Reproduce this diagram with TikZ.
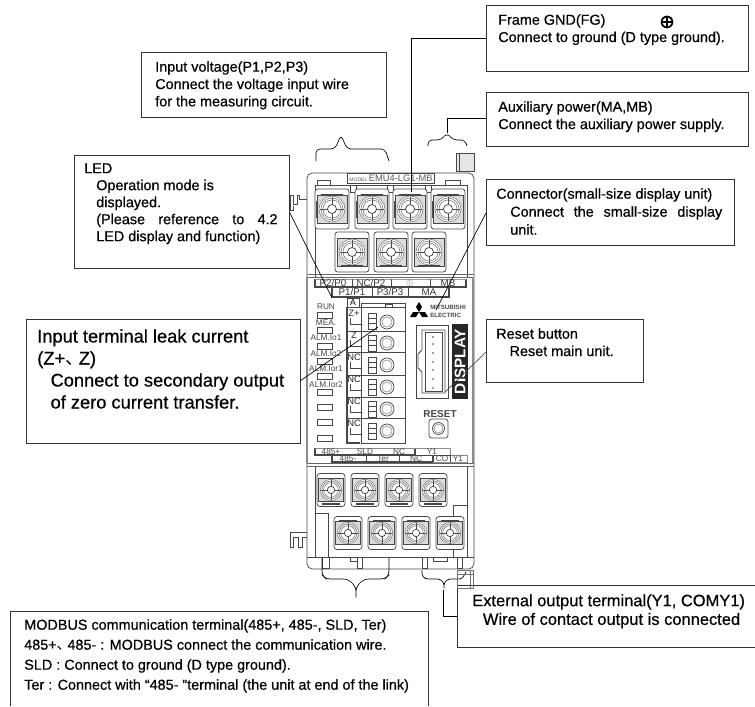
\documentclass[tikz,border=0pt]{standalone}
\usepackage{fontspec}
\setmainfont{Liberation Sans}
\newfontfamily\calf{Liberation Sans}[FakeBold=0.5]
\newfontfamily\cjk{Noto Sans CJK SC}
\newfontfamily\symf{DejaVu Sans}[FakeBold=2]
\newcommand{\tick}{\makebox[0.75em][l]{\cjk 、}}
\definecolor{dev}{gray}{0.28}
\tikzset{
 callout/.style={draw=black!80,line width=0.6pt,fill=white},
 wire/.style={draw=black,line width=0.5pt},
 lbl/.style={anchor=north west,inner sep=0pt,font=\calf\fontsize{10.8pt}{13pt}\selectfont,align=left},
 dev/.style={draw=dev,line width=0.55pt},
 tinyt/.style={inner sep=0pt,font=\fontsize{6.2pt}{6.2pt}\selectfont,text=dev},
 smallt/.style={inner sep=0pt,font=\fontsize{7.3pt}{7.3pt}\selectfont,text=black!80},
 scr/.pic={
  \draw[dev,fill=white,rounded corners=2pt] (-17,-20) rectangle (17,20);
  \draw[dev,fill=black!14] (-15,-14) rectangle (15,14);
  \foreach \r in {13,11,9}{\draw[black!55,line width=0.4pt,fill=white] (0,0) circle (\r);}
  \draw[black!70,line width=0.7pt] (-12,0) -- (12,0) (0,-12) -- (0,12);
  \draw[dev,fill=white] (0,0) circle (4.5);
 }
}
\begin{document}
\begin{tikzpicture}[x=0.75pt,y=-0.75pt]
\useasboundingbox (0,0) rectangle (755,706);
% device body
\draw[dev,rounded corners=4pt] (307,173) rectangle (474,569);
\draw[dev] (315,185) -- (467,185);
\draw[dev] (315,185) -- (315,277) (467,185) -- (467,277);
\draw[dev] (315,466) -- (315,557) (467,466) -- (467,557) (307,557) -- (474,557);
\draw[black!60,line width=0.7pt] (307,274) -- (474,274) (307,277) -- (474,277);
\draw[black!60,line width=0.7pt] (307,463) -- (474,463) (307,466) -- (474,466);
\draw[black!45,line width=1.6pt] (307,277) -- (307,463) (473,277) -- (473,463);
% clips and tabs
\draw[dev,fill=black!10] (456,153) rectangle (474,171);
\draw[dev] (459,153) -- (459,171);
\draw[dev] (290,210) -- (290,195) -- (293,195) -- (293,204) -- (297,204) -- (297,195) -- (299,195) -- (299,199) -- (307,199);
\draw[dev] (290,210) -- (293,210) -- (293,206);
\draw[dev] (307,532) -- (290,532) -- (290,547) -- (293,547) -- (293,537) -- (298,537) -- (298,547) -- (302,547) -- (302,537) -- (307,537);
% small tabs, top
\draw[dev] (317,180) rectangle (330,185) (445,180) -- (445,185) -- (460,185) -- (460,180) -- cycle;
\foreach \x in {350,387,425}{\draw[dev] (\x,185) rectangle (\x+6,192);}
% model label
\draw[dev,fill=white] (347,173) rectangle (434,183);
\node[inner sep=0pt,text=black!65] (model) at (391,178) {\fontsize{3.8pt}{4pt}\selectfont MODEL\ \fontsize{7pt}{7pt}\selectfont EMU4-LG1-MB};
% top terminals
\foreach \x in {332,372,410,448}{
 \pic at (\x,209) {scr};
 \draw[dev,line width=1pt] (\x-11,195) -- (\x+11,195);
 \draw[dev,line width=0.8pt] (\x-15,201) -- (\x-15,218);
}
\foreach \x in {352,391,429}{
 \pic at (\x,252) {scr};
 \draw[dev,line width=1pt] (\x-11,266) -- (\x+11,266);
}
% terminal label strips
\draw[dev,line width=0.9pt] (315,279) -- (315,287) -- (466,287) -- (466,279);
\draw[dev,line width=0.9pt] (332,287) -- (332,297) -- (449,297) -- (449,287);
\draw[black!40] (315,279) -- (466,279);
\foreach \x in {352,391,430}{\draw[dev] (\x,279) -- (\x,287);}
\foreach \x in {372,408}{\draw[dev] (\x,287) -- (\x,297);}
\node[smallt] (tp2) at (333,283) {P2/P0};
\node[smallt] (tnc) at (371,283) {NC/P2};
\node[tinyt,text=black!50] (tfg) at (410,283) {$\oplus$};
\node[smallt] (tmb) at (448,283) {MB};
\node[smallt] (tp1) at (352,292.5) {P1/P1};
\node[smallt] (tp3) at (390,292.5) {P3/P3};
\node[smallt] (tma) at (429,292.5) {MA};
% A Z+ column
\node[draw=dev,fill=white,minimum width=9pt,minimum height=7pt,inner sep=0pt,font=\fontsize{6.5pt}{6.5pt}\selectfont] (tA) at (353,302.5) {A};
\draw[dev,line width=1.1pt] (347,307) -- (347,443) -- (360,443);
\draw[dev] (361,303) rectangle (405,443);
\draw[dev] (385,304) -- (392,304) -- (392,307) -- (385,307) -- cycle;
\foreach \y in {307,331,352,375,397,418}{\draw[dev] (347,\y) -- (405,\y);}
\foreach \y/\t in {313/Z+,335/Z,357/NC,379/NC,401/NC,423/NC}{
 \node[tinyt,font=\fontsize{7pt}{7pt}\selectfont,text=black!85,anchor=center] at (354,\y) {\t};
 \draw[dev] (350,\y+5) -- (350,\y+11) -- (361,\y+11);
 \draw[dev] (368,\y) rectangle (376,\y+16);
 \draw[dev] (368,\y+5) -- (376,\y+5) (368,\y+10) -- (376,\y+10);
}
\foreach \y in {322,343,365,387,409,431}{
 \draw[dev] (387,\y) circle (7);
 \draw[black!50] (387,\y) circle (5);
}
% LEDs
\foreach \y in {312,327.5,343,358,373.5,389,404,419,435}{\draw[dev] (317,\y) rectangle (332,\y+6);}
\node[tinyt] (lrun) at (326,307) {RUN};
\node[tinyt] (lmea) at (326,323) {MEA.};
\node[tinyt] (lio1) at (326,338) {ALM.Io1};
\node[tinyt] (lio2) at (326,354) {ALM.Io2};
\node[tinyt] (lor1) at (326,369) {ALM.Ior1};
\node[tinyt] (lor2) at (326,385) {ALM.Ior2};
% logo
\fill[black] (419,302) -- (422,307) -- (419,312) -- (416,307) -- cycle;
\fill[black] (419,312) -- (413,312) -- (410,317) -- (416,317) -- cycle;
\fill[black] (419,312) -- (425,312) -- (428,317) -- (422,317) -- cycle;
\node[inner sep=0pt,anchor=west,font=\fontsize{4.6pt}{6.2pt}\selectfont\bfseries,align=left,text=dev] (logo) at (430,311.5) {MITSUBISHI\\ELECTRIC};
% connector
\draw[dev] (416,325) rectangle (448,398);
\draw[dev] (422,330) -- (445,330) -- (445,393) -- (422,393) -- (422,372) -- (418,368) -- (418,354) -- (422,350) -- cycle;
\draw[dev] (425,332) -- (442,332) -- (442,391) -- (425,391) -- cycle;
\foreach \y in {337,344,353,362,370,379,388}{\fill[black!50] (433,\y) circle (1.2);}
\fill[black!85] (452,324) rectangle (468,399);
\node[rotate=90,text=white,font=\fontsize{11.5pt}{11.5pt}\selectfont\bfseries,inner sep=0pt] (disp) at (460,361.5) {DISPLAY};
\node[inner sep=0pt,font=\fontsize{7.5pt}{7.5pt}\selectfont\bfseries,text=dev] (reset) at (440,414) {RESET};
\draw[dev,rounded corners=2pt] (429,419) rectangle (448,438);
\draw[dev] (438.5,428.5) circle (6);
\draw[black!50] (438.5,428.5) circle (4.5);
% bottom strip
\draw[dev,line width=0.9pt] (315,448) -- (315,455) -- (415,455) -- (415,448);
\draw[dev,line width=0.9pt] (332,455) -- (332,462) -- (433,462) -- (433,455);
\draw[black!45] (315,448) -- (450,448) -- (450,455) -- (467,455) -- (467,462) -- (433,462);
\foreach \x in {366,399}{\draw[dev] (\x,455) -- (\x,462);}
\draw[dev] (415,455) -- (450,455) (450,455) -- (450,462);
\node[tinyt] at (331,451.5) {485+};
\node[tinyt] at (365,451.5) {SLD};
\node[tinyt] at (399,451.5) {NC};
\node[tinyt] at (432,451.5) {Y1};
\node[tinyt] at (348,458.5) {485-};
\node[tinyt] at (383,458.5) {Ter};
\node[tinyt] at (416,458.5) {NC};
\node[tinyt] at (442,458.5) {CO};
\node[tinyt] at (458,458.5) {Y1};
% bottom terminals
\draw[dev] (315,513) rectangle (328,557);
\draw[dev] (453,505) rectangle (467,557);
\foreach \x in {331,365,399,433}{
 \pic[scale=0.82] at (\x,490) {scr};
 \draw[dev,line width=1pt] (\x-9,504) -- (\x+9,504);
}
\foreach \x in {348,382,416,450}{
 \pic[scale=0.82] at (\x,533) {scr};
 \draw[dev,line width=1pt] (\x-9,521) -- (\x+9,521);
}
% feet
\draw[dev] (322,557) rectangle (329,568) (350,557) -- (350,561) -- (357,561) -- (357,557) (357,557) rectangle (362,568);
\draw[dev] (422,557) rectangle (427,568) (433,557) -- (433,561) -- (447,561) -- (447,557) (457,557) rectangle (462,568);
% brackets
\draw[wire,rounded corners=3pt] (316,161) -- (316,149) -- (335,149) -- (341,135) -- (347,149) -- (385,149) -- (389,161);
\draw[wire,rounded corners=3pt] (428,146) -- (428,140) -- (441,140) -- (447,133) -- (453,140) -- (465,140) -- (467,146);
\coordinate (abr) at (447,133);
\draw[wire,rounded corners=3pt] (322,558) -- (322,575) -- (326,579) -- (348,579) -- (356,587) -- (356,600) -- (356,587) -- (364,579) -- (385,579) -- (389,575) -- (389,558);
\draw[wire,rounded corners=2pt] (422,570) -- (422,576) -- (426,579) -- (440,579) -- (444,583) -- (444,586) -- (444,583) -- (448,579) -- (462,579) -- (466,572);
% callouts
\node[callout,anchor=north west,minimum width=183.75pt,minimum height=48.75pt] (vbox) at (141,52) {};
\node[lbl] (vtxt) at (155,61) {Input voltage(P1,P2,P3)\\Connect the voltage input wire\\for the measuring circuit.};
\node[callout,anchor=north west,minimum width=196.5pt,minimum height=49.5pt] (fbox) at (486,5) {};
\node[lbl] (ftxt) at (498,14) {Frame GND(FG)\\Connect to ground (D type ground).};
\node[font=\symf\fontsize{14pt}{14pt}\selectfont,inner sep=0pt] (fsym) at (667,22) {⊕};
\node[callout,anchor=north west,minimum width=196.5pt,minimum height=40.5pt] (abox) at (486,92) {};
\node[lbl] (atxt) at (498,101) {Auxiliary power(MA,MB)\\Connect the auxiliary power supply.};
\node[callout,anchor=north west,minimum width=186pt,minimum height=49.5pt] (cbox) at (486,179) {};
\node[lbl,font=\calf\fontsize{10.8pt}{13.5pt}\selectfont] (ctxt) at (496,188) {Connector(small-size display unit)\\\hspace{10.5pt}\makebox[159pt][s]{Connect the small-size display}\\\hspace{10.5pt}unit.};
\node[callout,anchor=north west,minimum width=161.25pt,minimum height=84.75pt] (lbox) at (74,155) {};
\node[lbl,font=\calf\fontsize{10.8pt}{12.75pt}\selectfont] (ltxt) at (84,163) {LED\\\hspace{9pt}Operation mode is\\\hspace{9pt}displayed.\\\hspace{9pt}\makebox[136pt][s]{(Please reference to 4.2}\\\hspace{9pt}LED display and function)};
\node[callout,anchor=north west,minimum width=205.5pt,minimum height=93pt] (ibox) at (26,319) {};
\node[lbl,font=\calf\fontsize{13.7pt}{16.5pt}\selectfont] (itxt) at (37,329) {Input terminal leak current\\(Z+\tick Z)\\\hspace{10pt}Connect to secondary output\\\hspace{10pt}of zero current transfer.};
\node[callout,anchor=north west,minimum width=117.75pt,minimum height=47.25pt] (rbox) at (486,319) {};
\node[lbl] (rtxt) at (496,328) {Reset button\\\hspace{10pt}Reset main unit.};
\draw[callout] (10,706) -- (10,611) -- (428,611) -- (428,706);
\node[lbl,font=\calf\fontsize{10.8pt}{15pt}\selectfont] (mtxt) at (24,619) {MODBUS communication terminal(485+, 485-, SLD, Ter)\\485+\tick 485- : MODBUS connect the communication wire.\\SLD : Connect to ground (D type ground).\\Ter : Connect with “485- ”terminal (the unit at end of the link)};
\draw[callout] (755,585) -- (457,585) -- (457,647) -- (755,647);
\node[lbl,font=\calf\fontsize{12.35pt}{14pt}\selectfont] (etxt) at (472,594) {External output terminal(Y1, COMY1)\\\hspace{8pt}Wire of contact output is connected};
% lower right clip, over the box corner
\draw[black!55,line width=0.7pt] (457,570) rectangle (473,588);
\draw[black!55] (457,574) -- (473,574) (470,570) -- (470,588);
% connectors
\coordinate (gdot) at (411,192);
\draw[wire] (gdot) -- (411,38) -- (fbox.west |- 0,38);
\draw[wire] (abr) -- (447,118) -- (abox.west |- 0,118);
\coordinate (ledp) at (290,213);
\coordinate (ledt) at (332,298);
\draw[wire] (ledp) -- (ledt);
\coordinate (cstart) at (486,213);
\coordinate (cend) at (436,310);
\draw[wire] (cstart) -- (cend);
\coordinate (zstart) at (300,381);
\coordinate (zend) at (378,327);
\draw[wire] (zstart) -- (zend);
\coordinate (rstart) at (486,352);
\coordinate (rend) at (445,392);
\draw[wire,black!70] (rstart) -- (rend);
\coordinate (estart) at (443,590);
\coordinate (eend) at (457,616);
\draw[wire] (estart) -- (estart |- eend) -- (eend);
\end{tikzpicture}
\end{document}
